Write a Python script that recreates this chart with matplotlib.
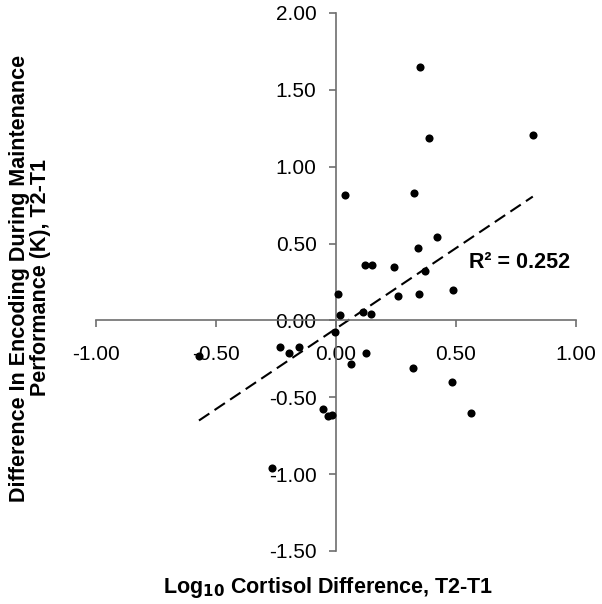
import numpy as np
import matplotlib
matplotlib.use("Agg")
import matplotlib.pyplot as plt

plt.rcParams['font.family'] = ['Liberation Sans', 'DejaVu Sans']

# Data
cortisol_diff = [0.352, 0.387, 0.820, 0.038, 0.324, 0.419, 0.343, 0.120, 0.151,
                 0.240, 0.369, 0.008, 0.258, 0.344, 0.488, 0.015, 0.113, 0.147,
                 -0.006, -0.235, -0.197, -0.153, 0.127, 0.063, 0.322, -0.056,
                 -0.034, -0.018, -0.571, 0.483, 0.562, -0.266]
encoding_diff = [1.648, 1.190, 1.206, 0.817, 0.832, 0.542, 0.474, 0.361, 0.361,
                 0.350, 0.324, 0.174, 0.161, 0.174, 0.199, 0.036, 0.053, 0.040,
                 -0.073, -0.171, -0.214, -0.171, -0.214, -0.285, -0.307, -0.576,
                 -0.624, -0.617, -0.231, -0.402, -0.604, -0.958]
r2_label = "R\u00b2 = 0.252"
x_ticks = [-1.0, -0.5, 0.0, 0.5, 1.0]
y_ticks = [-1.5, -1.0, -0.5, 0.0, 0.5, 1.0, 1.5, 2.0]

x = np.array(cortisol_diff)
y = np.array(encoding_diff)
slope, intercept = np.polyfit(x, y, 1)

fig = plt.figure(figsize=(6.02, 6.04), dpi=100)
ax = fig.add_axes([96 / 602, 53 / 604, 480 / 602, 538 / 604])

ax.scatter(x, y, s=34, color='black', zorder=3, linewidths=0)
xl = np.array([x.min(), x.max()])
ax.plot(xl, slope * xl + intercept, color='black', lw=1.5, dashes=(6, 3), zorder=2)

ax.set_xlim(-1.0, 1.0)
ax.set_ylim(-1.5, 2.0)
ax.set_xticks(x_ticks)
ax.set_yticks(y_ticks)
ax.set_xticklabels([f"{v:.2f}" for v in x_ticks])
ax.set_yticklabels([f"{v:.2f}" for v in y_ticks])

for s in ['top', 'right']:
    ax.spines[s].set_visible(False)
ax.spines['left'].set_position(('data', 0))
ax.spines['bottom'].set_position(('data', 0))
for s in ['left', 'bottom']:
    ax.spines[s].set_color('#6e6e6e')
    ax.spines[s].set_linewidth(1.2)

ax.tick_params(axis='x', direction='out', length=5, width=1.2, color='#6e6e6e',
               pad=13, labelsize=15, labelcolor='black')
ax.tick_params(axis='y', direction='out', length=5, width=1.2, color='#6e6e6e',
               pad=9, labelsize=15, labelcolor='black')

ax.text(0.556, 0.374, r2_label, fontsize=15.5, fontweight='bold', ha='left', va='center')

fig.text(328 / 602, 1 - 587 / 604, r"Log$_{\mathbf{10}}$ Cortisol Difference, T2-T1",
         fontsize=15.5, fontweight='bold', ha='center', va='center')
fig.text(30 / 602, 1 - 278 / 604,
         "Difference In Encoding During Maintenance\nPerformance (K), T2-T1",
         fontsize=15.5, fontweight='bold', ha='center', va='center', rotation=90,
         multialignment='center', linespacing=1.0)

fig.savefig('out.png', dpi=100)
